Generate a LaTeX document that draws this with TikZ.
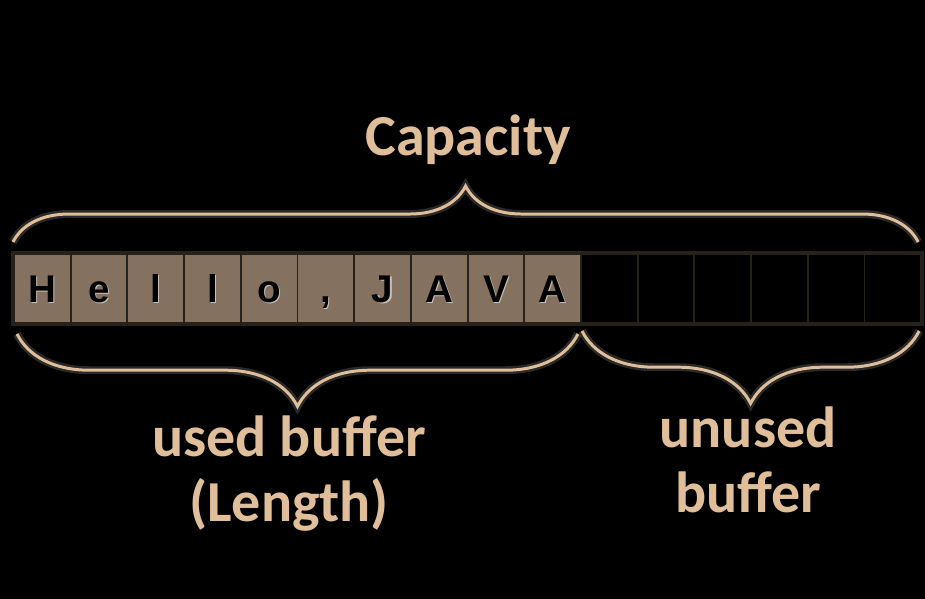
\documentclass[tikz,border=0pt]{standalone}
\usepackage{fontspec}
\setmainfont{Carlito}
\newfontfamily\cellfont{Liberation Sans}
\usepackage{tikz}
\usetikzlibrary{positioning, calc, fit, decorations.pathreplacing}

\definecolor{tan}{RGB}{224,190,154}
\definecolor{cellfill}{RGB}{133,113,95}
\definecolor{cellline}{RGB}{38,33,27}
\definecolor{glowcol}{RGB}{120,120,120}
\definecolor{letshadow}{RGB}{200,192,182}

\newcommand{\shd}[1]{\makebox[0pt][l]{\kern0.7pt\raisebox{-0.7pt}{\textcolor{letshadow}{#1}}}#1}

\tikzset{
    cell/.style={
        draw=cellline,
        line width=1.1pt,
        fill=cellfill,
        minimum width=1.134cm,
        minimum height=1.38cm,
        inner sep=0pt,
        text height=0.56cm,
        text depth=0pt,
        font=\cellfont\bfseries\fontsize{22}{22}\selectfont,
    },
    emptycell/.style={
        cell,
        fill=black,
    },
    frame/.style={
        draw=cellline,
        line width=2.6pt,
        inner sep=0pt,
    },
    bracket/.style={
        decorate,
        draw=tan,
        line width=1.7pt,
        preaction={draw=glowcol, line width=4.5pt, opacity=0.35},
    },
    label/.style={
        text=tan,
        align=center,
        font=\bfseries\fontsize{33}{37}\selectfont,
    }
}

\begin{document}
\begin{tikzpicture}

\fill[black] (0,0) rectangle (18.5,11.98);
\useasboundingbox (0,0) rectangle (18.5,11.98);

% the buffer cells
\foreach \l [count=\i] in {H,e,l,l,o,{,},J,A,V,A} {
    \node[cell] (c\i) at ({0.28+1.134*(\i-0.5)}, 6.21) {\shd{\l}};
}
\foreach \i in {11,...,16} {
    \node[emptycell] (c\i) at ({0.28+1.134*(\i-0.5)}, 6.21) {};
}
\node[frame, fit=(c1)(c16)] (buf) {};

% braces
\draw[bracket, decoration={brace, amplitude=1.12cm}]
    ([yshift=0.22cm]c1.north west) -- ([xshift=-0.08cm, yshift=0.22cm]c16.north east);
\draw[bracket, decoration={brace, amplitude=1.45cm}]
    ([xshift=-0.08cm, yshift=-0.2cm]c10.south east) -- ([xshift=0.08cm, yshift=-0.2cm]c1.south west);
\draw[bracket, decoration={brace, amplitude=1.45cm}]
    ([xshift=-0.06cm, yshift=-0.14cm]c16.south east) -- ([xshift=0.04cm, yshift=-0.14cm]c11.south west);

% labels (base = last line)
\node[label, anchor=base] (cap) at (9.36, 8.86) {Capacity};
\node[label, anchor=base] (used) at (5.78, 1.54) {used buffer\\(Length)};
\node[label, anchor=base] (unused) at (14.96, 1.72) {unused\\buffer};

\end{tikzpicture}
\end{document}
